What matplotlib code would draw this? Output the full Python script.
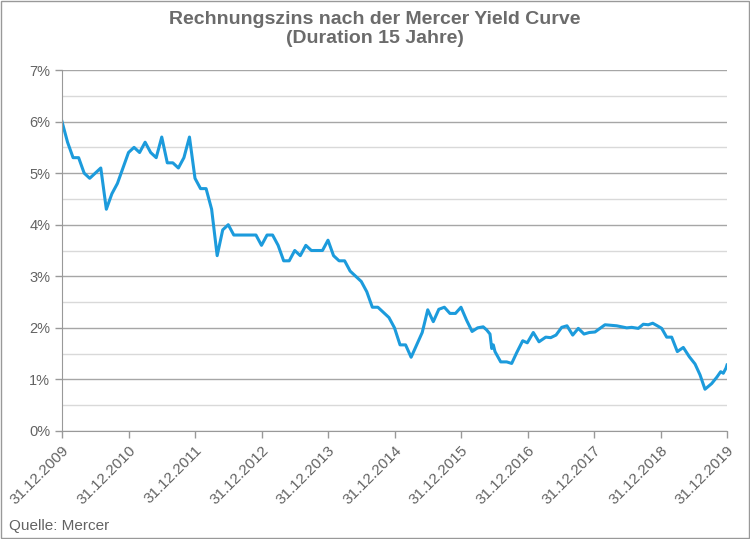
import numpy as np
import matplotlib.pyplot as plt
from matplotlib.patches import Rectangle

plt.rcParams['font.family'] = ['Liberation Sans', 'DejaVu Sans']

# monthly values from 31.12.2009 (in %)
monthly = [6.0, 5.6, 5.3, 5.3, 5.0, 4.9, 5.0, 5.1, 4.3, 4.6, 4.8, 5.1,
           5.4, 5.5, 5.4, 5.6, 5.4, 5.3, 5.7, 5.2, 5.2, 5.1, 5.3, 5.7,
           4.9, 4.7, 4.7, 4.3, 3.4, 3.9, 4.0, 3.8, 3.8, 3.8, 3.8, 3.8,
           3.6, 3.8, 3.8, 3.6, 3.3, 3.3, 3.5, 3.4, 3.6, 3.5, 3.5, 3.5,
           3.7, 3.4, 3.3, 3.3, 3.1, 3.0, 2.9, 2.7, 2.4, 2.4, 2.3, 2.2,
           2.0, 1.67, 1.67, 1.43, 1.67, 1.91, 2.35, 2.12, 2.36, 2.40, 2.28, 2.28,
           2.40, 2.15, 1.93, 2.0, 2.02]
monthly_t = [m / 12 for m in range(len(monthly))]

# later, denser observations (years after 31.12.2009, value in %)
late_t = [6.386, 6.436, 6.462, 6.486, 6.511, 6.597, 6.687, 6.762, 6.838, 6.928,
          6.997, 7.087, 7.173, 7.274, 7.349, 7.429, 7.514, 7.594, 7.680, 7.764,
          7.850, 7.929, 8.015, 8.090, 8.165, 8.341, 8.492, 8.567, 8.666, 8.741,
          8.817, 8.883, 8.952, 9.018, 9.093, 9.168, 9.253, 9.343, 9.433, 9.519,
          9.594, 9.669, 9.770, 9.845, 9.905, 9.944, 9.985, 10.0]
late_v = [1.96, 1.88, 1.60, 1.67, 1.54, 1.34, 1.34, 1.31, 1.52, 1.75,
          1.71, 1.91, 1.73, 1.82, 1.81, 1.86, 2.01, 2.04, 1.86, 1.99,
          1.88, 1.91, 1.92, 1.99, 2.06, 2.04, 2.00, 2.01, 1.99, 2.07,
          2.06, 2.09, 2.04, 1.99, 1.82, 1.82, 1.54, 1.62, 1.44, 1.30,
          1.09, 0.81, 0.92, 1.04, 1.15, 1.12, 1.22, 1.28]

years = list(range(2009, 2020))
tick_labels = ['31.12.%d' % y for y in years]

t = np.array(monthly_t + late_t)
v = np.array(monthly + late_v)

grey = '#636363'
fig = plt.figure(figsize=(7.5, 5.39), dpi=100)
ax = fig.add_axes([62 / 750, (539 - 431) / 539, 665 / 750, 361 / 539])

ax.plot(t, v, color='#1C9BDC', lw=2.2, solid_joinstyle='round')

ax.set_xlim(0, 10)
ax.set_ylim(0, 7)
ax.set_yticks(range(0, 8))
ax.set_yticks(np.arange(0.5, 7, 1), minor=True)
ax.set_yticklabels(['%d%%' % i for i in range(0, 8)])
ax.set_xticks(range(0, 11))
ax.set_xticklabels(tick_labels, rotation=45, ha='right', rotation_mode='anchor')
ax.grid(axis='y', which='major', color='#A6A6A6', lw=1)
ax.grid(axis='y', which='minor', color='#D9D9D9', lw=1)
ax.tick_params(axis='y', which='minor', length=0)
ax.set_axisbelow(True)
for s in ['top', 'right']:
    ax.spines[s].set_visible(False)
for s in ['left', 'bottom']:
    ax.spines[s].set_color('#999999')
ax.tick_params(colors='#999999', labelcolor=grey, labelsize=10.5, length=5, width=1)
ax.tick_params(axis='x', pad=4, labelsize=11)

fig.text(0.5, 1 - 11 / 539, 'Rechnungszins nach der Mercer Yield Curve\n(Duration 15 Jahre)',
         ha='center', va='top', fontsize=14, fontweight='bold', color='#6b6b6b', linespacing=1.15)
fig.text(9 / 750, 1 - 526 / 539, 'Quelle: Mercer', ha='left', va='center', fontsize=11, color=grey)
fig.patches.append(Rectangle((0.001, 0.001), 0.997, 0.997, transform=fig.transFigure,
                             fill=False, edgecolor='#999999', lw=1))

fig.savefig('out.png', dpi=100)
